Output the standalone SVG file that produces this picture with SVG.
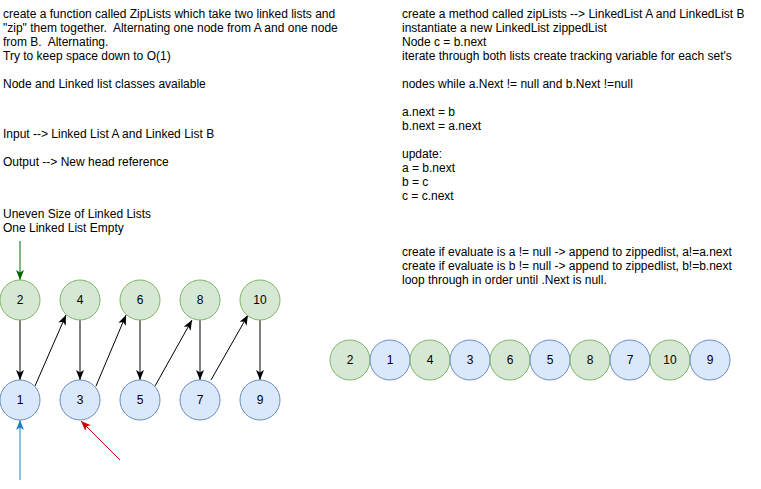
<svg xmlns="http://www.w3.org/2000/svg" width="761" height="489" viewBox="0 0 761 489">
<defs>
<style>
text{font-family:"Liberation Sans",Arial,sans-serif;font-size:12px;fill:#000;white-space:pre}
.g{fill:#d5e8d4;stroke:#82b366;stroke-width:1}
.b{fill:#dae8fc;stroke:#6c8ebf;stroke-width:1}
.lbl{text-anchor:middle;dominant-baseline:central}
.c{fill:none;stroke-width:1}
</style>
<marker id="ak" markerUnits="userSpaceOnUse" markerWidth="10" markerHeight="10" viewBox="0 0 10 10" refX="10" refY="5" orient="auto"><path d="M0,1 L10,5 L0,9 L2.5,5 Z" fill="#000"/></marker>
<marker id="ag" markerUnits="userSpaceOnUse" markerWidth="10" markerHeight="10" viewBox="0 0 10 10" refX="10" refY="5" orient="auto"><path d="M0,1 L10,5 L0,9 L2.5,5 Z" fill="#006600"/></marker>
<marker id="ab" markerUnits="userSpaceOnUse" markerWidth="10" markerHeight="10" viewBox="0 0 10 10" refX="10" refY="5" orient="auto"><path d="M0,1 L10,5 L0,9 L2.5,5 Z" fill="#1f7fc0"/></marker>
<marker id="ar" markerUnits="userSpaceOnUse" markerWidth="10" markerHeight="10" viewBox="0 0 10 10" refX="10" refY="5" orient="auto"><path d="M0,1 L10,5 L0,9 L2.5,5 Z" fill="#cc0000"/></marker>
</defs>
<rect width="761" height="489" fill="#fff"/>
<g id="desc-left" xml:space="preserve">
<text x="3" y="18">create a function called ZipLists which take two linked lists and</text>
<text x="3" y="32">"zip" them together.  Alternating one node from A and one node</text>
<text x="3" y="46">from B.  Alternating.</text>
<text x="3" y="60">Try to keep space down to O(1)</text>
<text x="3" y="88">Node and Linked list classes available</text>
<text x="3" y="138">Input --&gt; Linked List A and Linked List B</text>
<text x="3" y="166">Output --&gt; New head reference</text>
<text x="3" y="218">Uneven Size of Linked Lists</text>
<text x="3" y="232">One Linked List Empty</text>
</g>
<g id="desc-right">
<text x="402" y="18">create a method called zipLists --&gt; LinkedList A and LinkedList B</text>
<text x="402" y="32">instantiate a new LinkedList zippedList</text>
<text x="402" y="46">Node c = b.next</text>
<text x="402" y="60">iterate through both lists create tracking variable for each set's</text>
<text x="402" y="88">nodes while a.Next != null and b.Next !=null</text>
<text x="402" y="116">a.next = b</text>
<text x="402" y="130">b.next = a.next</text>
<text x="402" y="158">update:</text>
<text x="402" y="172">a = b.next</text>
<text x="402" y="186">b = c</text>
<text x="402" y="200">c = c.next</text>
<text x="402" y="256">create if evaluate is a != null -&gt; append to zippedlist, a!=a.next</text>
<text x="402" y="270">create if evaluate is b != null -&gt; append to zippedlist, b!=b.next</text>
<text x="402" y="284">loop through in order until .Next is null.</text>
</g>
<g id="connectors">
<line class="c" x1="20" y1="241" x2="20" y2="280" stroke="#006600" marker-end="url(#ag)"/>
<line class="c" x1="20" y1="480" x2="20" y2="420" stroke="#1f7fc0" marker-end="url(#ab)"/>
<line class="c" x1="120" y1="460" x2="81" y2="421" stroke="#cc0000" marker-end="url(#ar)"/>
<line class="c" x1="20" y1="320" x2="20" y2="380" stroke="#000" marker-end="url(#ak)"/>
<line class="c" x1="80" y1="320" x2="80" y2="380" stroke="#000" marker-end="url(#ak)"/>
<line class="c" x1="140" y1="320" x2="140" y2="380" stroke="#000" marker-end="url(#ak)"/>
<line class="c" x1="200" y1="320" x2="200" y2="380" stroke="#000" marker-end="url(#ak)"/>
<line class="c" x1="260" y1="320" x2="260" y2="380" stroke="#000" marker-end="url(#ak)"/>
<line class="c" x1="35" y1="386" x2="66" y2="315" stroke="#000" marker-end="url(#ak)"/>
<line class="c" x1="96" y1="386" x2="126" y2="315" stroke="#000" marker-end="url(#ak)"/>
<line class="c" x1="155" y1="386" x2="192" y2="320" stroke="#000" marker-end="url(#ak)"/>
<line class="c" x1="211" y1="380" x2="248" y2="315" stroke="#000" marker-end="url(#ak)"/>
</g>
<g id="nA2"><circle class="g" cx="20" cy="300" r="20"/><text class="lbl" x="20" y="300">2</text></g>
<g id="nA4"><circle class="g" cx="80" cy="300" r="20"/><text class="lbl" x="80" y="300">4</text></g>
<g id="nA6"><circle class="g" cx="140" cy="300" r="20"/><text class="lbl" x="140" y="300">6</text></g>
<g id="nA8"><circle class="g" cx="200" cy="300" r="20"/><text class="lbl" x="200" y="300">8</text></g>
<g id="nA10"><circle class="g" cx="260" cy="300" r="20"/><text class="lbl" x="260" y="300">10</text></g>
<g id="nB1"><circle class="b" cx="20" cy="400" r="20"/><text class="lbl" x="20" y="400">1</text></g>
<g id="nB3"><circle class="b" cx="80" cy="400" r="20"/><text class="lbl" x="80" y="400">3</text></g>
<g id="nB5"><circle class="b" cx="140" cy="400" r="20"/><text class="lbl" x="140" y="400">5</text></g>
<g id="nB7"><circle class="b" cx="200" cy="400" r="20"/><text class="lbl" x="200" y="400">7</text></g>
<g id="nB9"><circle class="b" cx="260" cy="400" r="20"/><text class="lbl" x="260" y="400">9</text></g>
<g id="z2"><circle class="g" cx="350" cy="360" r="20"/><text class="lbl" x="350" y="360">2</text></g>
<g id="z1"><circle class="b" cx="390" cy="360" r="20"/><text class="lbl" x="390" y="360">1</text></g>
<g id="z4"><circle class="g" cx="430" cy="360" r="20"/><text class="lbl" x="430" y="360">4</text></g>
<g id="z3"><circle class="b" cx="470" cy="360" r="20"/><text class="lbl" x="470" y="360">3</text></g>
<g id="z6"><circle class="g" cx="510" cy="360" r="20"/><text class="lbl" x="510" y="360">6</text></g>
<g id="z5"><circle class="b" cx="550" cy="360" r="20"/><text class="lbl" x="550" y="360">5</text></g>
<g id="z8"><circle class="g" cx="590" cy="360" r="20"/><text class="lbl" x="590" y="360">8</text></g>
<g id="z7"><circle class="b" cx="630" cy="360" r="20"/><text class="lbl" x="630" y="360">7</text></g>
<g id="z10"><circle class="g" cx="670" cy="360" r="20"/><text class="lbl" x="670" y="360">10</text></g>
<g id="z9"><circle class="b" cx="710" cy="360" r="20"/><text class="lbl" x="710" y="360">9</text></g>
</svg>
